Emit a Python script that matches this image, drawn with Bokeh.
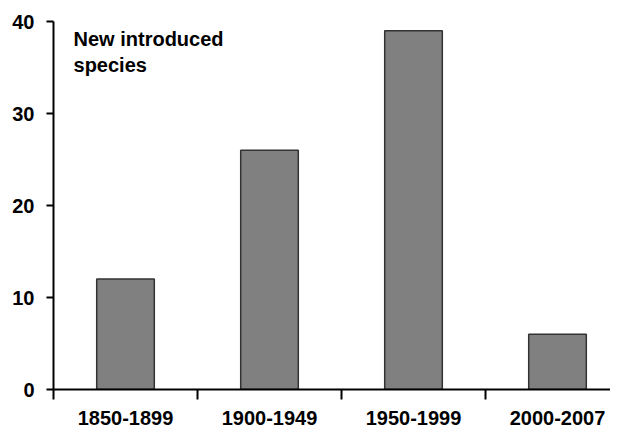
from bokeh.plotting import figure
from bokeh.models import FixedTicker, Range1d, Label, ColumnDataSource
from bokeh.embed import file_html
from bokeh.resources import INLINE

periods = ["1850-1899", "1900-1949", "1950-1999", "2000-2007"]
counts = [12, 26, 39, 6]
y_ticks = [0, 10, 20, 30, 40]
title_lines = ["New introduced", "species"]

FONT = "Liberation Sans"
pos = list(range(1, len(periods) + 1))
src = ColumnDataSource(dict(x=pos, top=counts))

p = figure(width=610, height=428, output_backend="svg", toolbar_location=None,
           x_range=Range1d(0.5, 4.368), y_range=Range1d(0, 40),
           min_border_left=53, min_border_right=0, min_border_top=21,
           min_border_bottom=39)
p.outline_line_color = None
p.grid.visible = False
p.background_fill_color = "white"
p.border_fill_color = "white"

p.vbar(x="x", top="top", bottom=0, width=0.4, source=src,
       fill_color="#808080", line_color="#333333", line_width=1.5)

xa = p.xaxis[0]
xa.ticker = FixedTicker(ticks=pos, minor_ticks=[b - 0.5 for b in pos])
xa.major_label_overrides = {k: v for k, v in zip(pos, periods)}
xa.major_tick_out = 0
xa.major_tick_in = 0
xa.major_tick_line_color = None
xa.minor_tick_out = 10
xa.minor_tick_in = 0
xa.minor_tick_line_width = 2
xa.minor_tick_line_color = "black"
xa.axis_line_width = 2
xa.axis_line_color = "black"
xa.major_label_standoff = 11
xa.major_label_text_font = FONT
xa.major_label_text_font_style = "bold"
xa.major_label_text_font_size = "20px"
xa.major_label_text_color = "black"

ya = p.yaxis[0]
ya.ticker = FixedTicker(ticks=y_ticks, minor_ticks=[])
ya.major_tick_out = 7
ya.major_tick_in = 0
ya.major_tick_line_width = 2
ya.major_tick_line_color = "black"
ya.minor_tick_line_color = None
ya.axis_line_width = 2
ya.axis_line_color = "black"
ya.major_label_standoff = 12
ya.major_label_text_font = FONT
ya.major_label_text_font_style = "bold"
ya.major_label_text_font_size = "20px"
ya.major_label_text_color = "black"

for txt, yv in zip(title_lines, [38.15, 35.27]):
    p.add_layout(Label(x=0.639, y=yv, text=txt, text_font=FONT,
                       text_font_style="bold", text_font_size="20px",
                       text_color="black", text_baseline="alphabetic",
                       text_align="left"))

open("out.html", "w").write(file_html(p, INLINE))
